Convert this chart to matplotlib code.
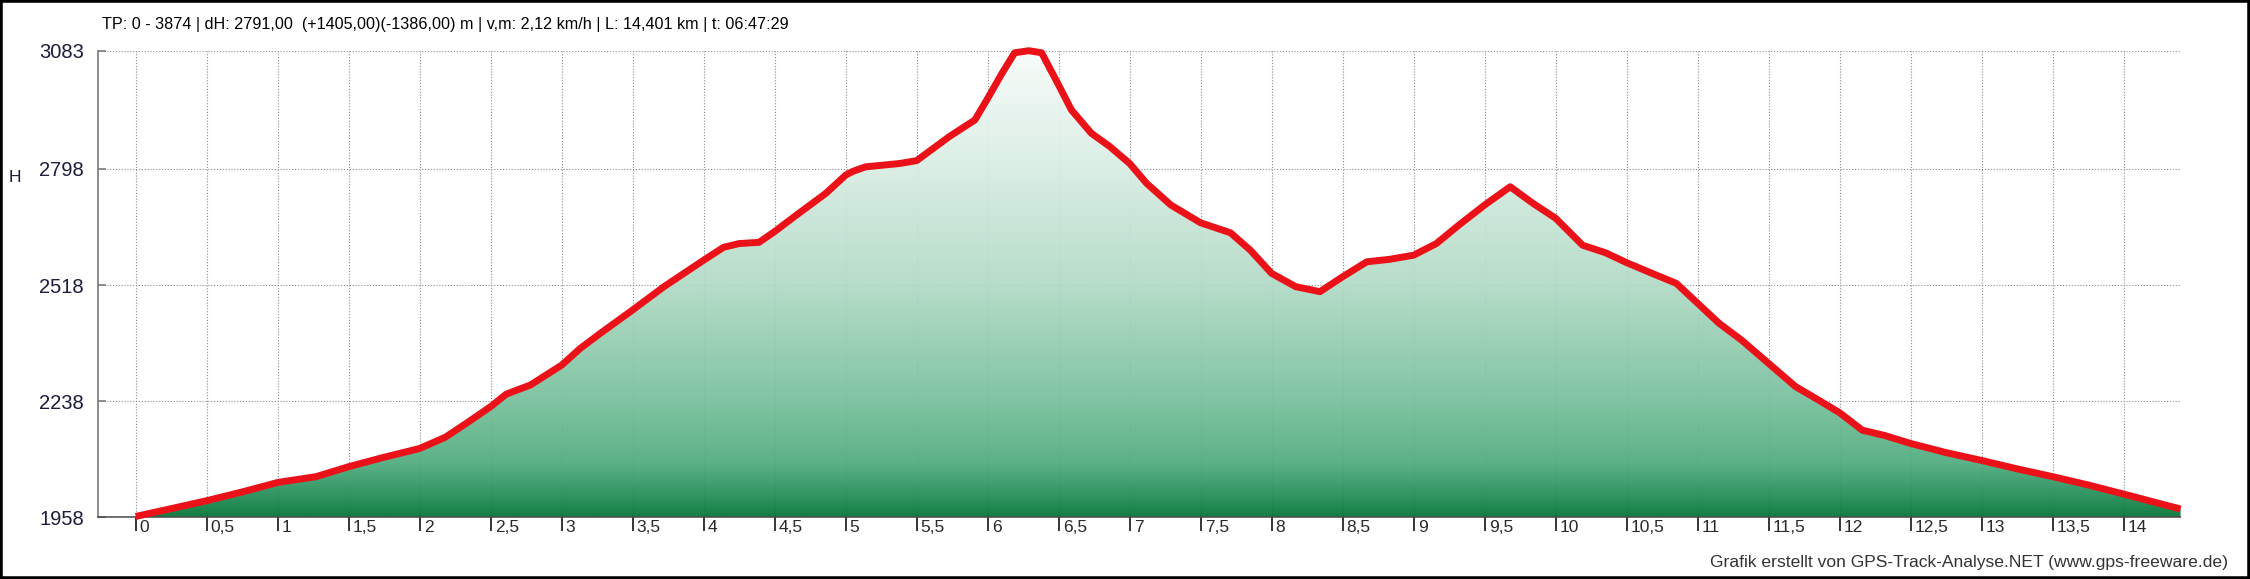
import numpy as np
import matplotlib
matplotlib.use('Agg')
import matplotlib.pyplot as plt
from matplotlib.colors import LinearSegmentedColormap
from matplotlib import transforms
from matplotlib.patches import Rectangle

# ---------------- data ----------------
km = [0.0, 0.265, 0.5, 0.76, 1.0, 1.27, 1.5, 1.74, 2.0, 2.18, 2.33, 2.5, 2.61, 2.78,
      3.0, 3.13, 3.27, 3.5, 3.72, 4.0, 4.14, 4.25, 4.39, 4.5, 4.67, 4.86, 5.0, 5.05, 5.14,
      5.38, 5.5, 5.73, 5.91, 6.0, 6.1, 6.19, 6.29, 6.38, 6.5, 6.59, 6.73, 6.86, 7.0,
      7.12, 7.29, 7.5, 7.71, 7.85, 8.0, 8.17, 8.34, 8.5, 8.67, 8.83, 9.0, 9.16, 9.32,
      9.5, 9.68, 9.84, 10.0, 10.19, 10.35, 10.5, 10.68, 10.85, 11.0, 11.15, 11.31,
      11.5, 11.69, 11.85, 12.0, 12.16, 12.32, 12.5, 12.75, 13.0, 13.26, 13.5, 13.75,
      14.0, 14.2, 14.401]
elevation = [1960, 1980, 1998, 2020, 2042, 2056, 2080, 2102, 2124, 2151, 2185, 2225, 2255, 2277,
             2325, 2365, 2401, 2458, 2514, 2578, 2609, 2618, 2621, 2647, 2691, 2739, 2783, 2792, 2803,
             2811, 2818, 2876, 2916, 2968, 3028, 3078, 3083, 3078, 3000, 2940, 2884, 2852, 2811,
             2763, 2711, 2668, 2644, 2602, 2546, 2514, 2502, 2538, 2574, 2580, 2590, 2618, 2663,
             2711, 2755, 2715, 2679, 2614, 2596, 2572, 2546, 2522, 2474, 2426, 2385,
             2329, 2273, 2241, 2210, 2168, 2155, 2136, 2114, 2095, 2074, 2056, 2036,
             2014, 1996, 1978]

y_ticks = [1958, 2238, 2518, 2798, 3083]
y_tick_labels = ['1958', '2238', '2518', '2798', '3083']
x_ticks = [0, 0.5, 1, 1.5, 2, 2.5, 3, 3.5, 4, 4.5, 5, 5.5, 6, 6.5, 7, 7.5, 8, 8.5, 9,
           9.5, 10, 10.5, 11, 11.5, 12, 12.5, 13, 13.5, 14]
x_tick_labels = ['0', '0,5', '1', '1,5', '2', '2,5', '3', '3,5', '4', '4,5', '5', '5,5',
                 '6', '6,5', '7', '7,5', '8', '8,5', '9', '9,5', '10', '10,5', '11', '11,5',
                 '12', '12,5', '13', '13,5', '14']

title_text = ("TP: 0 - 3874 | dH: 2791,00  (+1405,00)(-1386,00) m | v,m: 2,12 km/h | "
              "L: 14,401 km | t: 06:47:29")
footer_text = "Grafik erstellt von GPS-Track-Analyse.NET (www.gps-freeware.de)"
y_label = "H"

# ---------------- style ----------------
plt.rcParams['font.family'] = ['Liberation Sans', 'DejaVu Sans']

W, H = 2250, 579
fig = plt.figure(figsize=(W / 100, H / 100), dpi=100)
fig.patch.set_facecolor('white')

ax_left, ax_right, ax_top, ax_bottom = 98, 2181, 50.7, 517.3
ax = fig.add_axes([ax_left / W, 1 - ax_bottom / H, (ax_right - ax_left) / W,
                   (ax_bottom - ax_top) / H])
ax.set_facecolor('white')

ymin, ymax = y_ticks[0], y_ticks[-1]

# gradient fill under the profile
cmap = LinearSegmentedColormap.from_list('alt', [
    (0.0, '#007534'),
    (0.045, '#238d57'),
    (0.116, '#50ac7e'),
    (0.25, '#77c09c'),
    (0.5, '#b2dbc6'),
    (0.75, '#d8ede3'),
    (1.0, '#f8fcfa')])
poly = ax.fill_between(km, elevation, ymin, facecolor='none', edgecolor='none')
grad = np.linspace(0, 1, 512).reshape(-1, 1)
im = ax.imshow(grad, cmap=cmap, aspect='auto', origin='lower',
               extent=[km[0], km[-1], ymin, ymax], alpha=0.93, zorder=1,
               interpolation='bilinear')
im.set_clip_path(poly.get_paths()[0], transform=ax.transData)

# profile line
ax.plot(km, elevation, color='#ea1218', lw=5.0, solid_joinstyle='round',
        solid_capstyle='butt', zorder=3, clip_on=False)

ax.set_xlim(-0.2655, 14.404)
ax.set_ylim(ymin, ymax)

# grid
ax.set_axisbelow(True)
ax.grid(True, color='#8c8c8c', lw=0.8, linestyle=(0, (1, 1.6)))

# spines
for s in ('top', 'right'):
    ax.spines[s].set_visible(False)
ax.spines['left'].set_color('#7a7a7a')
ax.spines['left'].set_linewidth(1.2)
ax.spines['bottom'].set_color('#4a4a4a')
ax.spines['bottom'].set_linewidth(1.1)
ax.spines['bottom'].set_linestyle((0, (1, 1)))
ax.spines['bottom'].set_zorder(2.5)

# ticks
ax.set_yticks(y_ticks, y_tick_labels)
ax.tick_params(axis='y', direction='in', length=6, width=1.2, color='#7a7a7a',
               pad=10, labelsize=14.5, labelcolor='#1c1c3c')
ax.set_xticks(x_ticks, x_tick_labels)
ax.tick_params(axis='x', direction='out', length=10, width=1.1, color='black',
               pad=0, labelsize=12.5, labelcolor='#2a2a2a')
offset = transforms.ScaledTranslation(4 / 100, 4 / 100, fig.dpi_scale_trans)
for lbl in ax.get_xticklabels():
    lbl.set_horizontalalignment('left')
    lbl.set_verticalalignment('center')
    lbl.set_transform(lbl.get_transform() + offset)

# texts
fig.text(102 / W, 1 - 24 / H, title_text, ha='left', va='center', fontsize=11.6,
         color='black')
fig.text(15 / W, 1 - 177 / H, y_label, ha='center', va='center', fontsize=12.5,
         color='#1c1c3c')
fig.text(2228 / W, 1 - 562 / H, footer_text, ha='right', va='center', fontsize=12.6,
         color='#333333')

# outer frame
fig.patches.append(Rectangle((0, 0), 1, 1, transform=fig.transFigure, fill=False,
                             edgecolor='black', linewidth=4, zorder=10))

fig.savefig('out.png', dpi=100)
